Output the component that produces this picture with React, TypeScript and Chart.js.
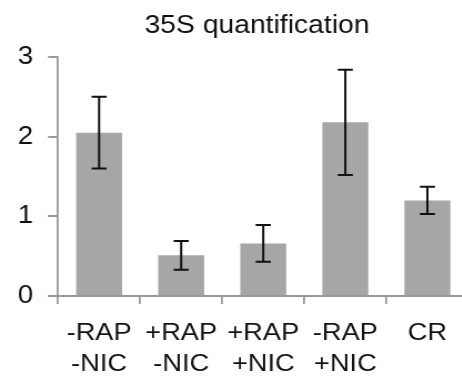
import React, { useEffect, useRef } from "react";
import { Chart, registerables } from "chart.js";

Chart.register(...registerables);

const categories: string[][] = [
  ["-RAP", "-NIC"],
  ["+RAP", "-NIC"],
  ["+RAP", "+NIC"],
  ["-RAP", "+NIC"],
  ["CR"],
];
const values: number[] = [2.05, 0.51, 0.66, 2.18, 1.2];
const errors: number[] = [0.45, 0.18, 0.23, 0.66, 0.17];
const yTicks: number[] = [0, 1, 2, 3];
const title = "35S quantification";

const SX = 1.11;
const CANVAS_W = 424;
const CANVAS_H = 379;
const FONT = "'Liberation Sans', Arial, sans-serif";

const errorBarPlugin = {
  id: "errorBars",
  afterDatasetsDraw(chart: any) {
    const meta = chart.getDatasetMeta(0);
    const yScale = chart.scales.y;
    const ctx = chart.ctx;
    ctx.save();
    ctx.strokeStyle = "#111";
    ctx.lineWidth = 2;
    meta.data.forEach((bar: any, i: number) => {
      const x = bar.x;
      const yt = yScale.getPixelForValue(values[i] + errors[i]);
      const yb = yScale.getPixelForValue(values[i] - errors[i]);
      const hw = 6.8;
      ctx.beginPath();
      ctx.moveTo(x, yt);
      ctx.lineTo(x, yb);
      ctx.moveTo(x - hw, yt);
      ctx.lineTo(x + hw, yt);
      ctx.moveTo(x - hw, yb);
      ctx.lineTo(x + hw, yb);
      ctx.stroke();
    });
    ctx.restore();
  },
};

const titlePlugin = {
  id: "offsetTitle",
  afterDraw(chart: any) {
    const ctx = chart.ctx;
    const { left, right } = chart.chartArea;
    ctx.save();
    ctx.fillStyle = "#111";
    ctx.font = `25.5px ${FONT}`;
    ctx.textAlign = "center";
    ctx.textBaseline = "middle";
    ctx.fillText(title, (left + right) / 2 - 5.6, 25.5);
    ctx.restore();
  },
};

export default function App() {
  const ref = useRef<HTMLCanvasElement>(null);
  useEffect(() => {
    if (!ref.current) return;
    const chart = new Chart(ref.current, {
      type: "bar",
      data: {
        labels: categories,
        datasets: [
          {
            data: values,
            backgroundColor: "#a6a6a6",
            borderWidth: 0,
            barPercentage: 0.56,
            categoryPercentage: 1,
          },
        ],
      },
      options: {
        responsive: false,
        animation: false,
        layout: { padding: { top: 57, right: 2, bottom: 0, left: 0 } },
        plugins: {
          legend: { display: false },
          tooltip: { enabled: false },
          title: { display: false },
        },
        scales: {
          x: {
            afterFit(scale: any) {
              scale.height = 83;
            },
            grid: {
              display: true,
              drawOnChartArea: false,
              drawTicks: true,
              tickLength: 8,
              color: "#999",
              lineWidth: 1.8,
              offset: true,
            },
            border: { display: true, color: "#999", width: 2 },
            ticks: {
              color: "#111",
              padding: 14,
              maxRotation: 0,
              autoSkip: false,
              font: { family: FONT, size: 24.5, lineHeight: 1.26 },
            },
          },
          y: {
            min: 0,
            max: 3,
            afterFit(scale: any) {
              scale.width = 52.3;
            },
            afterBuildTicks(scale: any) {
              scale.ticks = yTicks.map((v) => ({ value: v }));
            },
            grid: {
              display: true,
              drawOnChartArea: false,
              drawTicks: true,
              tickLength: 9,
              color: "#999",
              lineWidth: 2,
            },
            border: { display: true, color: "#999", width: 1.8 },
            ticks: {
              color: "#111",
              padding: 13.5,
              font: { family: FONT, size: 25 },
            },
          },
        },
      },
      plugins: [errorBarPlugin, titlePlugin],
    });
    return () => chart.destroy();
  }, []);

  return (
    <div
      style={{
        position: "fixed",
        left: 0,
        top: 0,
        width: 462,
        height: 379,
        overflow: "hidden",
        background: "#fff",
      }}
    >
      <div
        style={{
          width: CANVAS_W,
          height: CANVAS_H,
          transform: `scaleX(${SX})`,
          transformOrigin: "0 0",
        }}
      >
        <canvas ref={ref} width={CANVAS_W} height={CANVAS_H} />
      </div>
    </div>
  );
}
